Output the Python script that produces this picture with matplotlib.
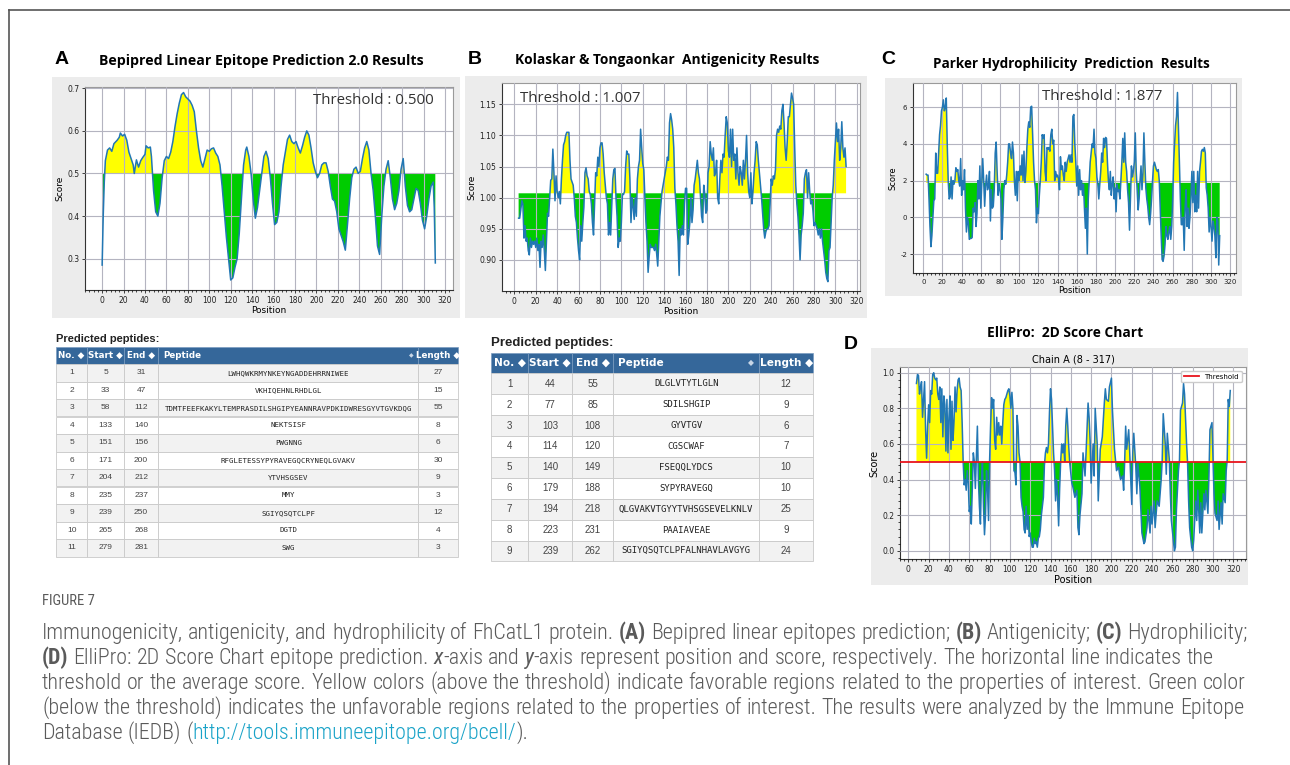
import numpy as np
import matplotlib.pyplot as plt
from matplotlib.patches import Rectangle
from matplotlib.lines import Line2D
from matplotlib.ticker import MultipleLocator, FormatStrFormatter
from matplotlib import font_manager

# ---- data ----
# A: Bepipred 2.0
bepi_pos = [0, 1, 2, 3, 5, 7, 9, 11, 14, 16, 17, 19, 21, 23, 25, 27, 29, 30, 32, 34, 36, 38, 40, 41, 43, 45, 46, 47, 48, 50,
            52, 54, 56, 58, 60, 62, 64, 66, 68, 70, 72, 74, 76, 78, 80, 82, 84, 86, 88, 90, 92, 94, 96, 98, 100, 102, 104,
            106, 108, 110, 112, 114, 116, 118, 120, 122, 124, 126, 128, 130, 132, 134, 135, 137, 139, 141, 143, 145, 147,
            149, 151, 153, 155, 157, 159, 161, 163, 165, 167, 169, 171, 173, 175, 177, 179, 181, 183, 185, 187, 189, 191,
            193, 195, 197, 199, 201, 203, 205, 207, 209, 211, 213, 215, 217, 219, 221, 223, 225, 227, 229, 231, 233, 235,
            237, 239, 241, 243, 245, 247, 249, 251, 253, 255, 257, 259, 261, 263, 265, 267, 269, 271, 273, 275, 277, 279,
            281, 283, 285, 287, 289, 291, 293, 295, 297, 299, 301, 303, 305, 307, 309, 310, 311]
bepi_score = [0.285, 0.40, 0.48, 0.53, 0.555, 0.56, 0.552, 0.57, 0.578, 0.585, 0.595, 0.588, 0.592, 0.578, 0.55, 0.535,
              0.52, 0.50, 0.532, 0.515, 0.53, 0.538, 0.545, 0.565, 0.56, 0.562, 0.54, 0.50, 0.46, 0.41, 0.40, 0.43, 0.49,
              0.53, 0.54, 0.535, 0.55, 0.575, 0.61, 0.64, 0.665, 0.685, 0.69, 0.68, 0.675, 0.67, 0.66, 0.645, 0.60, 0.56,
              0.53, 0.515, 0.535, 0.555, 0.552, 0.558, 0.56, 0.548, 0.54, 0.52, 0.47, 0.41, 0.35, 0.30, 0.25, 0.255, 0.28,
              0.30, 0.36, 0.44, 0.52, 0.555, 0.562, 0.54, 0.50, 0.44, 0.395, 0.42, 0.46, 0.50, 0.54, 0.552, 0.535, 0.49,
              0.43, 0.38, 0.385, 0.41, 0.47, 0.52, 0.55, 0.58, 0.59, 0.575, 0.57, 0.575, 0.56, 0.548, 0.565, 0.585, 0.60,
              0.59, 0.56, 0.525, 0.505, 0.49, 0.50, 0.52, 0.525, 0.525, 0.505, 0.47, 0.44, 0.435, 0.41, 0.37, 0.355, 0.34,
              0.32, 0.38, 0.44, 0.49, 0.51, 0.515, 0.50, 0.505, 0.535, 0.56, 0.575, 0.555, 0.50, 0.46, 0.40, 0.33, 0.31,
              0.40, 0.47, 0.51, 0.53, 0.49, 0.44, 0.415, 0.43, 0.46, 0.51, 0.535, 0.47, 0.425, 0.41, 0.415, 0.44, 0.465,
              0.46, 0.43, 0.39, 0.37, 0.40, 0.44, 0.47, 0.48, 0.42, 0.29]
bepi_thr = 0.500

# B: Kolaskar & Tongaonkar, residues 4..310
kt_first = 4
kt_score = [0.967, 0.967, 0.98, 0.995, 0.99, 0.935, 0.955, 0.93, 0.935, 0.915, 0.908, 0.935, 0.92, 0.93, 0.925, 0.93,
            0.92, 0.935, 0.915, 0.925, 0.888, 0.93, 0.92, 0.94, 0.915, 0.883, 0.93, 0.975, 0.97, 1.0, 1.028, 1.03, 1.078,
            1.04, 0.995, 1.035, 1.01, 1.0, 1.01, 0.99, 1.03, 1.06, 1.085, 1.09, 1.10, 1.105, 1.105, 1.105, 1.06, 1.03,
            1.025, 1.02, 1.0, 0.97, 0.96, 0.935, 0.915, 0.90, 0.955, 0.93, 0.96, 0.985, 1.04, 1.048, 1.035, 1.03, 1.01,
            1.005, 0.99, 0.96, 0.94, 0.99, 1.04, 1.035, 1.065, 1.05, 1.08, 1.088, 1.088, 1.07, 1.04, 1.02, 1.0, 0.99,
            0.94, 0.96, 0.94, 0.985, 1.03, 1.045, 1.047, 1.0, 0.97, 0.92, 0.935, 0.93, 0.96, 1.005, 1.005, 1.01, 1.05,
            1.075, 1.07, 1.07, 1.03, 0.96, 1.0, 0.985, 0.965, 1.0, 0.97, 1.03, 1.05, 1.06, 1.11, 1.08, 1.055, 1.045,
            1.0, 0.96, 0.93, 0.88, 0.905, 0.925, 0.92, 0.92, 0.92, 0.915, 0.925, 0.91, 0.89, 0.93, 0.97, 0.99, 1.01,
            1.02, 1.03, 1.04, 1.05, 1.065, 1.06, 1.12, 1.135, 1.125, 1.11, 1.08, 1.015, 0.99, 0.955, 0.93, 0.875, 0.95,
            0.94, 0.955, 0.94, 0.99, 1.015, 1.015, 0.925, 0.94, 0.96, 1.0, 0.96, 0.98, 1.02, 1.03, 1.045, 1.06, 1.04,
            1.03, 1.0, 0.97, 0.96, 1.02, 1.005, 0.975, 0.98, 1.04, 1.05, 1.09, 1.07, 1.06, 1.08, 1.035, 1.04, 1.06, 1.0,
            0.99, 1.03, 1.06, 1.04, 1.07, 1.065, 1.10, 1.13, 1.12, 1.075, 1.065, 1.11, 1.05, 1.11, 1.06, 1.07, 1.03,
            1.08, 1.04, 1.02, 1.05, 1.04, 1.02, 1.06, 1.03, 1.06, 1.10, 1.04, 1.01, 1.0, 1.04, 0.99, 1.01, 1.04, 1.06,
            1.09, 1.085, 1.06, 1.04, 1.02, 1.0, 0.975, 0.95, 0.935, 0.945, 0.95, 0.95, 0.955, 0.99, 1.03, 1.02, 1.035,
            1.03, 1.045, 1.1, 1.11, 1.105, 1.115, 1.11, 1.14, 1.15, 1.12, 1.08, 1.06, 1.09, 1.13, 1.13, 1.15, 1.168,
            1.16, 1.15, 1.08, 1.02, 0.99, 0.97, 0.94, 0.90, 0.94, 0.955, 0.975, 1.03, 1.04, 1.045, 1.0, 1.04, 1.01, 0.99,
            0.995, 0.98, 0.955, 0.96, 0.955, 0.95, 0.94, 0.95, 0.935, 0.95, 0.93, 0.915, 0.90, 0.88, 0.87, 0.865, 0.915,
            0.92, 0.96, 1.0, 1.02, 1.06, 1.09, 1.12, 1.09, 1.11, 1.06, 1.08, 1.122, 1.08, 1.065, 1.08, 1.05]
kt_thr = 1.007

# C: Parker hydrophilicity, residues 3..309
parker_first = 3
parker_score = [2.35, 2.3, 2.3, 1.0, -0.5, -1.6, -1.0, 0.0, 0.9, 1.0, 3.5, 2.4, 2.4, 3.5, 4.5, 5.0, 5.8, 6.0, 6.4, 5.8,
                6.0, 6.5, 4.0, 2.0, 1.0, 1.1, 2.2, 1.0, 2.0, 1.8, 2.0, 2.7, 2.5, 2.6, 2.0, 1.7, 3.2, 1.2, 2.0, 1.5, 2.6,
                0.5, -0.8, 0.0, -0.3, -1.2, -1.15, -1.15, -1.1, 0.5, 0.3, 0.8, -0.5, 0.2, 2.0, 1.0, 2.8, 0.5, 1.8, 3.2,
                2.0, 0.6, 1.7, 2.3, 1.5, 1.7, 2.5, -0.2, 1.5, 0.5, 0.6, 1.5, 3.5, 4.1, 2.5, 1.2, 1.8, 1.5, 1.0, -1.2, 0.0,
                1.5, 2.0, 1.8, 2.3, 3.0, 4.0, 4.0, 3.5, 3.2, 4.1, 3.5, 2.0, 1.2, 2.5, 0.9, 2.5, 2.0, 2.8, 2.3, 3.4, 2.0,
                3.6, 1.9, 2.5, 3.8, 4.8, 5.2, 4.9, 6.0, 6.05, 4.5, 3.0, 2.0, 1.5, -0.3, 0.5, 0.2, 1.2, 2.0, 3.0, 4.5, 4.3,
                4.5, 2.5, 2.0, 3.8, 3.7, 3.8, 3.6, 4.5, 4.8, 4.0, 4.2, 2.0, 2.5, 2.2, 2.3, 2.1, 1.5, 3.3, 2.6, 2.8, 2.3,
                2.0, 3.0, 2.5, 3.0, 3.2, 3.4, 3.0, 3.4, 3.0, 5.5, 5.6, 4.0, 3.0, 1.7, 2.8, 1.2, 2.6, 1.5, 2.0, 1.2, 1.8,
                0.5, -0.6, 0.5, -2.0, 1.0, 2.0, 3.0, 3.5, 4.0, 3.8, 4.8, 3.5, 3.2, 2.2, 1.8, 1.0, 1.8, 2.5, 3.5, 3.0, 4.3,
                3.8, 4.35, 4.3, 3.0, 2.0, 1.5, 2.5, 1.2, 1.8, 2.2, 1.0, 1.6, 0.3, 1.8, 1.4, 1.5, 1.0, 2.0, 3.0, 4.3, 3.0,
                4.6, 3.0, 2.5, 1.5, 0.8, -0.7, 1.0, 2.8, 2.2, 2.5, 3.0, 4.6, 2.5, 1.5, 0.4, 1.0, 2.0, 2.8, 1.5, 2.4, 4.6,
                3.0, 1.6, 1.0, 0.6, 0.0, -0.4, 0.2, 1.0, 2.0, 2.8, 3.0, 2.8, 2.6, 2.5, 2.6, 2.0, 0.5, -1.0, -2.3, -2.4,
                -2.1, -1.5, -0.5, -1.0, -1.2, -0.8, -0.5, -1.2, -0.5, 1.0, 3.0, 4.0, 5.0, 5.5, 6.8, 5.0, 3.0, 1.0, -0.4,
                -0.4, 0.0, -1.8, 0.5, 1.5, -0.5, 0.5, -0.6, 0.0, 1.0, 2.5, 0.8, 2.5, 0.3, 1.2, 0.3, 2.5, 0.5, 2.5, 3.0,
                3.6, 3.7, 3.6, 3.8, 3.5, 1.6, 1.2, 0.5, -0.8, 0.0, -0.5, -1.3, -0.2, -0.5, -1.0, -2.2, 0.0, -0.2, -2.6,
                -1.0]
parker_thr = 1.877

# D: ElliPro, chain A (8 - 317)
elli_pos = list(range(8, 159)) + [159, 161, 162, 164, 166, 167, 168, 169, 171, 172, 174, 175, 177, 178, 179, 180, 182,
                                  183, 184, 186, 187, 189, 191, 193, 194, 195, 197, 198, 200, 201, 203, 204, 205, 207,
                                  208, 209, 211, 212, 213, 214, 215, 217, 218, 219, 220, 221, 222, 224, 225, 226, 228,
                                  229, 230, 232, 233, 235, 236, 238, 239, 240, 242, 243, 245, 247, 249, 250, 251, 253,
                                  254, 255, 257, 258, 259, 261, 262, 263, 264, 266, 267, 268, 270, 271, 272, 274, 275,
                                  276, 277, 279, 280, 281, 283, 284, 285, 287, 288, 289, 291, 292, 293, 295, 296, 297,
                                  299, 300, 301, 302, 304, 305, 306, 308, 309, 310, 312, 313, 314, 315, 316, 317]
elli_score = [0.94, 0.99, 0.985, 0.88, 0.92, 0.95, 0.75, 0.85, 0.95, 0.68, 0.52, 0.7, 0.82, 0.72, 0.9, 0.88, 0.99, 1.0,
              0.97, 0.96, 0.97, 0.88, 0.85, 0.92, 0.72, 0.91, 0.64, 0.87, 0.82, 0.56, 0.85, 0.55, 0.75, 0.87, 0.57, 0.84,
              0.62, 0.73, 0.92, 0.78, 0.9, 0.96, 0.97, 0.92, 0.9, 0.72, 0.5, 0.37, 0.4, 0.34, 0.45, 0.38, 0.22, 0.25,
              0.15, 0.35, 0.55, 0.5, 0.35, 0.52, 0.7, 0.4, 0.25, 0.15, 0.4, 0.5, 0.25, 0.09, 0.2, 0.45, 0.35, 0.17, 0.5,
              0.7, 0.86, 0.8, 0.85, 0.62, 0.57, 0.75, 0.65, 0.72, 0.65, 0.7, 0.6, 0.72, 0.82, 0.85, 0.86, 0.88, 0.9,
              0.91, 0.87, 0.8, 0.89, 0.8, 0.45, 0.44, 0.37, 0.76, 0.7, 0.55, 0.5, 0.3, 0.25, 0.22, 0.12, 0.1, 0.25,
              0.12, 0.2, 0.08, 0.1, 0.05, 0.02, 0.02, 0.07, 0.04, 0.05, 0.02, 0.07, 0.08, 0.12, 0.2, 0.25, 0.3, 0.48,
              0.55, 0.58, 0.55, 0.6, 0.78, 0.91, 0.85, 0.7, 0.55, 0.45, 0.28, 0.4, 0.3, 0.14, 0.35, 0.5, 0.6, 0.55, 0.6,
              0.5, 0.7, 0.8, 0.7, 0.58,
              0.49, 0.38, 0.36, 0.3, 0.34, 0.13, 0.09, 0.2, 0.32, 0.55, 0.42, 0.55, 0.83, 0.75, 0.62, 0.38, 0.6, 0.42,
              0.8, 0.6, 0.28, 0.57, 0.64, 0.83, 0.91, 0.85, 0.84, 0.92, 0.97, 0.79, 0.57, 0.51, 0.45, 0.47, 0.43, 0.4,
              0.42, 0.34, 0.5, 0.7, 0.57, 0.68, 0.55, 0.4, 0.26, 0.55, 0.66, 0.47, 0.32, 0.49, 0.36, 0.23, 0.1, 0.04,
              0.05, 0.13, 0.23, 0.1, 0.25, 0.15, 0.28, 0.13, 0.28, 0.25, 0.4, 0.51, 0.77, 0.6, 0.43, 0.66, 0.51, 0.32,
              0.17, 0.06, 0.0, 0.02, 0.23, 0.45, 0.51, 0.79, 0.83, 0.94, 0.88, 0.6, 0.49, 0.28, 0.13, 0.02, 0.0, 0.06,
              0.28, 0.17, 0.34, 0.1, 0.27, 0.1, 0.32, 0.23, 0.34, 0.21, 0.42, 0.68, 0.72, 0.51, 0.32, 0.21, 0.17, 0.28,
              0.12, 0.27, 0.15, 0.32, 0.27, 0.45, 0.51, 0.85, 0.81, 0.9]
elli_thr = 0.5

# predicted peptide tables
bepi_no = [1, 2, 3, 4, 5, 6, 7, 8, 9, 10, 11]
bepi_start = [5, 33, 58, 133, 151, 171, 204, 235, 239, 265, 279]
bepi_end = [31, 47, 112, 140, 156, 200, 212, 237, 250, 268, 281]
bepi_pep = ["LWHQWKRMYNKEYNGADDEHRRNIWEE", "VKHIQEHNLRHDLGL",
            "TDMTFEEFKAKYLTEMPRASDILSHGIPYEANNRAVPDKIDWRESGYVTGVKDQG", "NEKTSISF", "PWGNNG",
            "RFGLETESSYPYRAVEGQCRYNEQLGVAKV", "YTVHSGSEV", "MMY", "SGIYQSQTCLPF", "DGTD", "SWG"]
bepi_len = [27, 15, 55, 8, 6, 30, 9, 3, 12, 4, 3]

kt_no = [1, 2, 3, 4, 5, 6, 7, 8, 9]
kt_start = [44, 77, 103, 114, 140, 179, 194, 223, 239]
kt_end = [55, 85, 108, 120, 149, 188, 218, 231, 262]
kt_pep = ["DLGLVTYTLGLN", "SDILSHGIP", "GYVTGV", "CGSCWAF", "FSEQQLYDCS", "SYPYRAVEGQ",
          "QLGVAKVTGYYTVHSGSEVELKNLV", "PAAIAVEAE", "SGIYQSQTCLPFALNHAVLAVGYG"]
kt_len = [12, 9, 6, 7, 10, 10, 25, 9, 24]

W, H = 1290, 765
YEL, GRN, LINE = '#ffff00', '#00cc00', '#2277b4'

fig = plt.figure(figsize=(W / 100, H / 100), dpi=100)
fig.patch.set_facecolor('white')
r = fig.canvas.get_renderer()


def box(l, t, rr, b):
    return [l / W, 1 - b / H, (rr - l) / W, (b - t) / H]


def ftext(x, y, s, **kw):
    return fig.text(x / W, 1 - y / H, s, **kw)


def fit(x0, x1, y, s, **kw):
    # scale font so the text spans x0..x1 pixels
    t = ftext(x0, y, s, fontsize=10, va='center', ha='left', **kw)
    w = t.get_window_extent(r).width
    t.set_fontsize(10 * (x1 - x0) / w)
    return t


def frect(x, y, w, h, **kw):
    p = Rectangle((x / W, 1 - (y + h) / H), w / W, h / H, transform=fig.transFigure, **kw)
    fig.add_artist(p)
    return p


# outer frame (top and left edges)
fig.add_artist(Line2D([9 / W, 9 / W], [0, 1 - 10 / H], transform=fig.transFigure, color='#555555', lw=1.2))
fig.add_artist(Line2D([9 / W, 1], [1 - 10 / H, 1 - 10 / H], transform=fig.transFigure, color='#555555', lw=1.2))

# grey screenshot backgrounds
for l, t, rr, b in [(52, 77, 460, 318), (465, 76, 867, 318), (885, 78, 1242, 296), (871, 348, 1248, 585)]:
    frect(l, t, rr - l, b - t, facecolor='#ececec', edgecolor='none', zorder=-5)


def panel(rect, x, y, thr, xlim, ylim, yticks, yfmt, fs=5.5):
    ax = fig.add_axes(box(*rect))
    x = np.asarray(x, dtype=float)
    y = np.asarray(y, dtype=float)
    ax.fill_between(x, y, thr, where=y >= thr, interpolate=True, color=YEL, lw=0, zorder=1)
    ax.fill_between(x, y, thr, where=y <= thr, interpolate=True, color=GRN, lw=0, zorder=1)
    ax.plot(x, y, color=LINE, lw=1.1, zorder=3)
    ax.set_xlim(xlim)
    ax.set_ylim(ylim)
    ax.set_xticks(range(0, 321, 20))
    ax.xaxis.set_minor_locator(MultipleLocator(4))
    ax.set_yticks(yticks)
    ax.yaxis.set_major_formatter(FormatStrFormatter(yfmt))
    ax.set_axisbelow(False)
    ax.grid(True, color='#b4b4c0', lw=0.8)
    ax.tick_params(labelsize=fs, length=2.5, width=0.6, pad=1.5, colors='#222222')
    ax.tick_params(which='minor', length=1.5, width=0.5)
    for side in ['left', 'bottom']:
        ax.spines[side].set_color('#333333')
    for side in ['top', 'right']:
        ax.spines[side].set_color('#9a9a9a')
    ax.set_xlabel('Position', fontsize=fs + 1, labelpad=1)
    ax.set_ylabel('Score', fontsize=fs + 1, labelpad=2)
    return ax


# A
panel((85, 87, 453, 290), bepi_pos, bepi_score, bepi_thr, (-16, 327.5), (0.2265, 0.703),
      [0.3, 0.4, 0.5, 0.6, 0.7], '%.1f')
ftext(62, 60, 'A', fontsize=14, weight='bold', family='Liberation Sans', ha='center', va='center')
fit(99, 423, 61, 'Bepipred Linear Epitope Prediction 2.0 Results', family='Open Sans', weight='bold')
fit(313, 433, 100, 'Threshold : 0.500', family='Open Sans', color='#333333')

# B
kt_pos = np.arange(kt_first, kt_first + len(kt_score))
panel((501.7, 82.7, 860, 291), kt_pos, kt_score, kt_thr, (-11.8, 323), (0.850, 1.1847),
      [0.90, 0.95, 1.00, 1.05, 1.10, 1.15], '%.2f')
ftext(475, 60, 'B', fontsize=14, weight='bold', family='Liberation Sans', ha='center', va='center')
fit(515, 818, 60, 'Kolaskar & Tongaonkar  Antigenicity Results', family='Open Sans', weight='bold')
fit(520, 640, 98, 'Threshold : 1.007', family='Open Sans', color='#333333')

# C
parker_pos = np.arange(parker_first, parker_first + len(parker_score))
panel((912.7, 83.3, 1236, 273.3), parker_pos, parker_score, parker_thr, (-11, 326), (-3.05, 7.3),
      [-2, 0, 2, 4, 6], '%d', fs=5)
ftext(888, 60, 'C', fontsize=14, weight='bold', family='Liberation Sans', ha='center', va='center')
fit(933, 1211, 64, 'Parker Hydrophilicity  Prediction  Results', family='Open Sans', weight='bold')
fit(1042, 1162, 97, 'Threshold : 1.877', family='Open Sans', color='#333333')

# D
axd = panel((900, 366.7, 1246, 559.3), elli_pos, elli_score, elli_thr, (-8.2, 332.5), (-0.048, 1.034),
            [0.0, 0.2, 0.4, 0.6, 0.8, 1.0], '%.1f', fs=5.5)
axd.axhline(elli_thr, color='#e8141c', lw=1.3, zorder=4, label='Threshold')
axd.yaxis.set_minor_locator(MultipleLocator(0.04))
axd.tick_params(which='minor', axis='y', length=1.5)
axd.xaxis.label.set_fontsize(7)
axd.yaxis.label.set_fontsize(7)
axd.set_title('Chain A (8 - 317)', fontsize=7, pad=3)
axd.legend(loc='upper right', fontsize=5, handlelength=2.2, borderaxespad=0.6, framealpha=1, edgecolor='#cccccc')
ftext(851, 345, 'D', fontsize=14, weight='bold', family='Liberation Sans', ha='center', va='center')
fit(987, 1143, 333, 'ElliPro:  2D Score Chart', family='Open Sans', weight='bold')

# peptide tables
HEAD = '#35679a'


def table(cols, top, hh, rh, no, st, en, pep, ln, fh, fc, fp):
    names = ['No.', 'Start', 'End', 'Peptide', 'Length']
    for j in range(5):
        frect(cols[j], top, cols[j + 1] - cols[j], hh, facecolor=HEAD, edgecolor='#7a9cc0', lw=0.5)
        cy = top + hh / 2
        if names[j] == 'Peptide':
            ftext(cols[j] + 5, cy, 'Peptide', color='white', weight='bold', fontsize=fh, va='center')
            ftext(cols[j + 1] - 5, cy, '\u25c6', color='#c8d6e6', fontsize=fh - 2, ha='right', va='center')
        else:
            ftext((cols[j] + cols[j + 1]) / 2, cy, names[j] + ' \u25c6', color='white', weight='bold',
                  fontsize=fh, ha='center', va='center')
    for i in range(len(no)):
        y = top + hh + i * rh
        bg = '#f2f2f2' if i % 2 == 0 else '#ffffff'
        vals = [no[i], st[i], en[i], pep[i], ln[i]]
        for j in range(5):
            frect(cols[j], y, cols[j + 1] - cols[j], rh, facecolor=bg, edgecolor='#c9c9c9', lw=0.6)
            cx = (cols[j] + cols[j + 1]) / 2
            if j == 3:
                ftext(cx, y + rh / 2, vals[j], family='DejaVu Sans Mono', fontsize=fp, color='#222222',
                      ha='center', va='center')
            else:
                ftext(cx, y + rh / 2, str(vals[j]), family='Liberation Sans', fontsize=fc, color='#444444',
                      ha='center', va='center')


fit(56, 160, 339, 'Predicted peptides:', family='Liberation Sans', weight='bold', color='#222222')
table([56, 87.3, 124, 158.3, 418.3, 458], 347, 17, 17.5, bepi_no, bepi_start, bepi_end, bepi_pep, bepi_len,
      6.3, 6, 5.3)

fit(491, 615, 343, 'Predicted peptides:', family='Liberation Sans', weight='bold', color='#222222')
table([491, 528.3, 572.3, 613.3, 759, 813.3], 352.7, 20.6, 20.9, kt_no, kt_start, kt_end, kt_pep, kt_len,
      7.6, 7, 6.5)

# caption: prefer a narrow family if one is installed
names = {f.name for f in font_manager.fontManager.ttflist}
CAP_FONT = 'Lato'
for cand in ['Liberation Sans Narrow', 'Roboto Condensed', 'Open Sans Condensed', 'DejaVu Sans Condensed']:
    if cand in names:
        CAP_FONT = cand
        break
CAP_COLOR = '#5a5a5a'
BOLD = {'weight': 'bold'}
ITAL = {'style': 'italic'}
NORM = {'weight': 'light'}
LINK = {'color': '#1aa3c8', 'weight': 'light'}
caption = [
    [("Immunogenicity, antigenicity, and hydrophilicity of FhCatL1 protein. ", NORM), ("(A)", BOLD),
     (" Bepipred linear epitopes prediction; ", NORM), ("(B)", BOLD), (" Antigenicity; ", NORM), ("(C)", BOLD),
     (" Hydrophilicity;", NORM)],
    [("(D)", BOLD), (" ElliPro: 2D Score Chart epitope prediction. ", NORM), ("x", ITAL), ("-axis and ", NORM),
     ("y", ITAL), ("-axis represent position and score, respectively. The horizontal line indicates the", NORM)],
    [("threshold or the average score. Yellow colors (above the threshold) indicate favorable regions related to "
      "the properties of interest. Green color", NORM)],
    [("(below the threshold) indicates the unfavorable regions related to the properties of interest. The results "
      "were analyzed by the Immune Epitope", NORM)],
    [("Database (IEDB) (", NORM), ("http://tools.immuneepitope.org/bcell/", LINK), (").", NORM)],
]


def space_w(style):
    a = ftext(0, 0, 'a a', **style)
    b = ftext(0, 0, 'aa', **style)
    w = a.get_window_extent(r).width - b.get_window_extent(r).width
    a.remove()
    b.remove()
    return w


def draw_runs(x, yb, segs, size):
    arts = []
    for s, kw in segs:
        style = dict(family=CAP_FONT, fontsize=size, color=CAP_COLOR, va='baseline', ha='left')
        style.update(kw)
        sw = space_w(style)
        words = s.split(' ')
        for i, wd in enumerate(words):
            if wd:
                t = ftext(x, yb, wd, **style)
                arts.append(t)
                x += t.get_window_extent(r).width
            if i < len(words) - 1:
                x += sw
    return arts, x


arts, xe = draw_runs(42, 639, caption[0], 10)
cap_size = 10 * (1248 - 42) / (xe - 42)
for a in arts:
    a.remove()
for k, segs in enumerate(caption):
    draw_runs(42, 639 + 25 * k, segs, cap_size)
fit(42, 95, 601, 'FIGURE 7', family=CAP_FONT, color='#5a5a5a')

fig.savefig('out.png', dpi=100)
